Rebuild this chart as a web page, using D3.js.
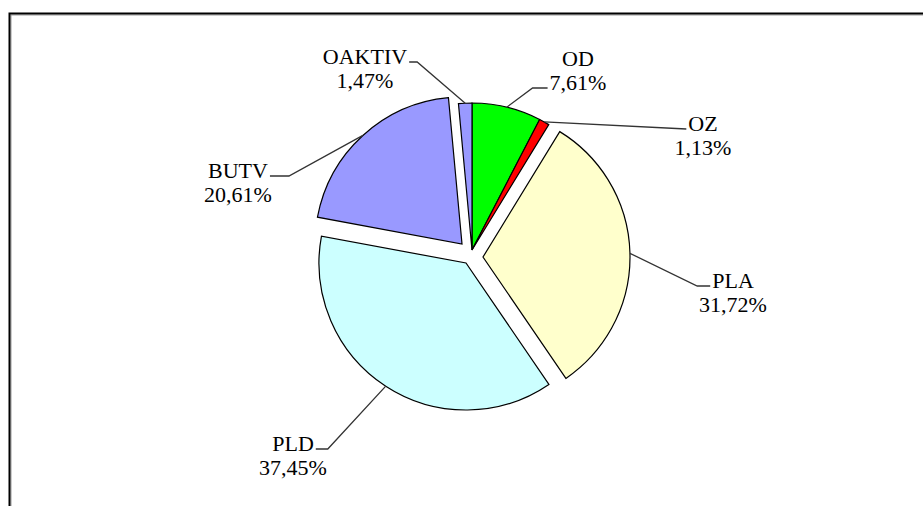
<!DOCTYPE html>
<html>
<head>
<meta charset="utf-8">
<script src="https://cdn.jsdelivr.net/npm/d3@7"></script>
<style>
  html, body { margin: 0; padding: 0; background: #fff; }
  svg { display: block; }
</style>
</head>
<body>
<svg id="chart" width="923" height="506"></svg>
<script>
// ---- data ----
const categories = ["OD", "OZ", "PLA", "PLD", "BUTV", "OAKTIV"];
const values = [7.61, 1.13, 31.72, 37.45, 20.61, 1.47];
const valueLabels = ["7,61%", "1,13%", "31,72%", "37,45%", "20,61%", "1,47%"];

// ---- styling / layout ----
const colors = ["#00FF00", "#FF0000", "#FFFFCC", "#CCFFFF", "#9999FF", "#9999FF"];
const center = { x: 472, y: 250 };
const radius = 147;
// explode offset of each slice (px)
const explode = [[0, 0], [0, 0], [11, 7], [-6, 13], [-10, -6], [0, 0]];
// label anchor: centre x, first baseline y, side of leader (l/r), line the leader touches
const labelLayout = [
  { x: 578, y: 66, side: "l", line: 1, elbow: 15 },
  { x: 703, y: 131, side: "l", line: 0, elbow: 0 },
  { x: 733, y: 288, side: "l", line: 0, elbow: 13 },
  { x: 293, y: 451, side: "r", line: 0, elbow: 12 },
  { x: 238, y: 178, side: "r", line: 0, elbow: 19 },
  { x: 365, y: 64, side: "r", line: 0, elbow: 8 }
];
const fontSize = 22, lineGap = 24;

const svg = d3.select("#chart");

// frame
svg.append("path").attr("d", "M11,506V15H923").attr("fill", "none")
  .attr("stroke", "#9a9a9a").attr("stroke-width", 1);
svg.append("path").attr("d", "M9.5,506V13.5H923").attr("fill", "none")
  .attr("stroke", "#000").attr("stroke-width", 2);

const pie = d3.pie().sort(null).value(d => d)(values);
const arc = d3.arc().innerRadius(0).outerRadius(radius);
const edgeArc = d3.arc().innerRadius(radius).outerRadius(radius);

const g = svg.append("g");

pie.forEach((p, i) => {
  const cx = center.x + explode[i][0], cy = center.y + explode[i][1];
  g.append("path")
    .attr("transform", `translate(${cx},${cy})`)
    .attr("d", arc(p))
    .attr("fill", colors[i])
    .attr("stroke", "#000")
    .attr("stroke-width", 1.2)
    .attr("stroke-linejoin", "miter");
});

const labels = svg.append("g")
  .attr("font-family", "'Liberation Serif', 'Times New Roman', serif")
  .attr("font-size", fontSize)
  .attr("fill", "#000");

pie.forEach((p, i) => {
  const L = labelLayout[i];
  const t = labels.append("text").attr("text-anchor", "middle");
  const lines = [categories[i], valueLabels[i]];
  const widths = [];
  lines.forEach((s, k) => {
    const ts = t.append("tspan").attr("x", L.x).attr("y", L.y + k * lineGap).text(s);
    widths.push(ts.node().getComputedTextLength());
  });
  const w = widths[L.line];
  const ly = L.y + L.line * lineGap - 2;
  const endX = L.side === "l" ? L.x - w / 2 - 2 : L.x + w / 2 + 2;
  const elbowX = L.side === "l" ? endX - L.elbow : endX + L.elbow;
  const c = edgeArc.centroid(p);
  const sx = center.x + explode[i][0] + c[0];
  const sy = center.y + explode[i][1] + c[1];
  svg.append("path")
    .attr("d", d3.line()([[sx, sy], [elbowX, ly], [endX, ly]]))
    .attr("fill", "none")
    .attr("stroke", "#333")
    .attr("stroke-width", 1.3);
});
</script>
</body>
</html>
